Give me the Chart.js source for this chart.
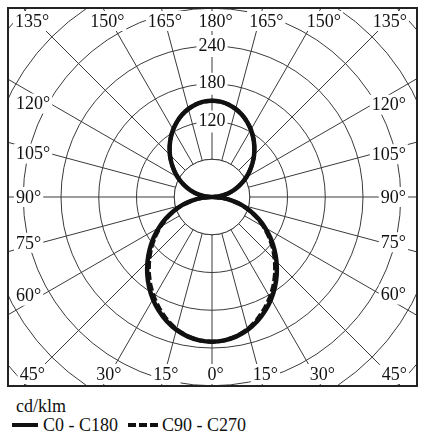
<!DOCTYPE html>
<html>
<head>
<meta charset="utf-8">
<script src="https://cdn.jsdelivr.net/npm/chart.js@4.4.1/dist/chart.umd.min.js"></script>
<style>
body { margin:0; background:#fff; width:433px; height:437px; position:relative; overflow:hidden; font-family:"Liberation Serif", serif; }
#marco { position:absolute; left:7px; top:7px; width:411px; height:380px; box-sizing:border-box; border:2px solid #222; overflow:hidden; }
#grafica { position:absolute; }
.txt { position:absolute; font-size:18px; line-height:20px; color:#111; white-space:nowrap; }
.muestra { position:absolute; height:4px; }
</style>
</head>
<body>
<div id="marco"><canvas id="grafica" width="626" height="626"></canvas></div>
<div id="leyenda"></div>
<script>
// angulo gamma: 0 = abajo (nadir), 180 = arriba, cada 5 grados
const gammas = [0,5,10,15,20,25,30,35,40,45,50,55,60,65,70,75,80,85,90,95,100,105,110,115,120,125,130,135,140,145,150,155,160,165,170,175,180]
const c0c180 = [230,228.7,224.9,218.6,210.1,199.7,187.7,174.4,160.1,144.9,129.3,113.4,97.2,81,64.7,48.5,32.3,16.1,0,10.4,20.8,31.2,41.7,52.3,62.9,73.5,84.1,94.6,104.7,114.5,123.6,131.9,139.1,145,149.4,152.1,153]
const c90c270 = [230,228.7,224.5,217.5,208,196.5,184,170.5,156,141,126,110.5,95,79.5,64,48,32,16,0,10.4,20.8,31.2,41.7,52.3,62.9,73.5,84.1,94.6,104.7,114.5,123.6,131.9,139.1,145,149.4,152.1,153]
const series = ["C0 - C180", "C90 - C270"]
const unidad = "cd/klm"
const marcasRadio = [120, 180, 240]
const etiquetasAngulo = [0,15,30,45,60,75,90,105,120,135,150,165,180]

const CENTRO_X = 212
const CENTRO_Y = 197

// el radar empieza arriba (gamma 180) y gira en sentido horario
const labels = []
for (let t = 0; t < 360; t += 5) labels.push(t)
const serieRadar = (valores) => labels.map(t => {
    const g = t <= 180 ? 180 - t : t - 180
    return valores[gammas.indexOf(g)]
})

const centro = {
    id: "centro",
    beforeDatasetsDraw(chart) {
        const r = chart.scales.r
        const ctx = chart.ctx
        const rad = r.getDistanceFromCenterForValue(r.ticks[1].value)
        ctx.save()
        ctx.beginPath()
        ctx.arc(r.xCenter, r.yCenter, rad, 0, Math.PI * 2)
        ctx.fillStyle = "#fff"
        ctx.fill()
        ctx.strokeStyle = "#3a3a3a"
        ctx.lineWidth = 1
        ctx.stroke()
        ctx.restore()
    }
}

const rotulos = {
    id: "rotulos",
    afterDraw(chart) {
        const r = chart.scales.r
        const ctx = chart.ctx
        const filaArriba = 176, filaAbajo = 177, ladoIzq = 196, ladoDer = 194
        ctx.save()
        ctx.font = '18px "Liberation Serif"'
        ctx.textBaseline = "middle"
        ctx.textAlign = "left"
        etiquetasAngulo.forEach(g => {
            const lados = (g === 0 || g === 180) ? [1] : [-1, 1]
            lados.forEach(s => {
                const num = String(g)
                const texto = num + "°"
                const wNum = ctx.measureText(num).width
                const w = ctx.measureText(texto).width
                const dx = s * Math.sin(g * Math.PI / 180)
                const dy = Math.cos(g * Math.PI / 180)
                let x0 = null, y = 0
                if (Math.abs(dy) > 1e-6) {
                    const yr = dy > 0 ? filaAbajo : -filaArriba
                    let xr = dx * yr / dy
                    if (Math.abs(dx) > 1e-6) xr += Math.sign(dx) * wNum / 2 * Math.abs(dx)
                    if (Math.abs(xr) + wNum / 2 <= 205) {
                        x0 = Math.min(Math.max(xr - wNum / 2, -ladoIzq - 1), ladoDer + 1 - w)
                        y = yr
                    }
                }
                if (x0 === null) {
                    const borde = (s < 0 ? ladoIzq : ladoDer) - w
                    y = dy * borde / Math.abs(dx)
                    x0 = s < 0 ? -ladoIzq : ladoDer - w
                }
                ctx.fillStyle = "#fff"
                ctx.fillRect(r.xCenter + x0 - 2, r.yCenter + y - 10, w + 4, 20)
                ctx.fillStyle = "#111"
                ctx.fillText(texto, r.xCenter + x0, r.yCenter + y + 1)
            })
        })
        ctx.restore()
    }
}

const lienzo = document.querySelector("#grafica")
const grafico = new Chart(lienzo, {
    type: "radar",
    data: {
        labels: labels,
        datasets: [{
            label: series[1],
            data: serieRadar(c90c270),
            borderColor: "#111",
            borderWidth: 4,
            borderDash: [8, 3],
            fill: false,
            pointRadius: 0,
            tension: 0.2
        }, {
            label: series[0],
            data: serieRadar(c0c180),
            borderColor: "#111",
            borderWidth: 4.5,
            fill: false,
            pointRadius: 0,
            tension: 0.2
        }]
    },
    options: {
        responsive: false,
        animation: false,
        devicePixelRatio: 1,
        plugins: { legend: { display: false }, tooltip: { enabled: false } },
        scales: {
            r: {
                min: 0,
                max: 480,
                ticks: {
                    stepSize: 60,
                    color: "#111",
                    font: { family: "Liberation Serif", size: 18 },
                    backdropColor: "#fff",
                    backdropPadding: 2,
                    callback: v => marcasRadio.includes(v) ? String(v) : "",
                    showLabelBackdrop: ctx => marcasRadio.includes(ctx.tick.value)
                },
                grid: { circular: true, color: "#3a3a3a", lineWidth: 1 },
                angleLines: { color: "#3a3a3a", lineWidth: ctx => ctx.index % 3 === 0 ? 1 : 0 },
                pointLabels: { display: false }
            }
        }
    },
    plugins: [centro, rotulos]
})

const escala = grafico.scales.r
lienzo.style.left = (CENTRO_X - 9 - escala.xCenter) + "px"
lienzo.style.top = (CENTRO_Y - 9 - escala.yCenter) + "px"

// leyenda
const leyenda = document.querySelector("#leyenda")
leyenda.innerHTML =
    `<div class="txt" style="left:16px;top:396px">${unidad}</div>` +
    `<div class="muestra" style="left:12px;top:423px;width:26px;background:#111"></div>` +
    `<div class="txt" style="left:43px;top:415px">${series[0]}</div>` +
    `<div class="muestra" style="left:128px;top:423px;width:30px;background:repeating-linear-gradient(90deg,#111 0 8px,transparent 8px 11px)"></div>` +
    `<div class="txt" style="left:162px;top:415px">${series[1]}</div>`
</script>
</body>
</html>
